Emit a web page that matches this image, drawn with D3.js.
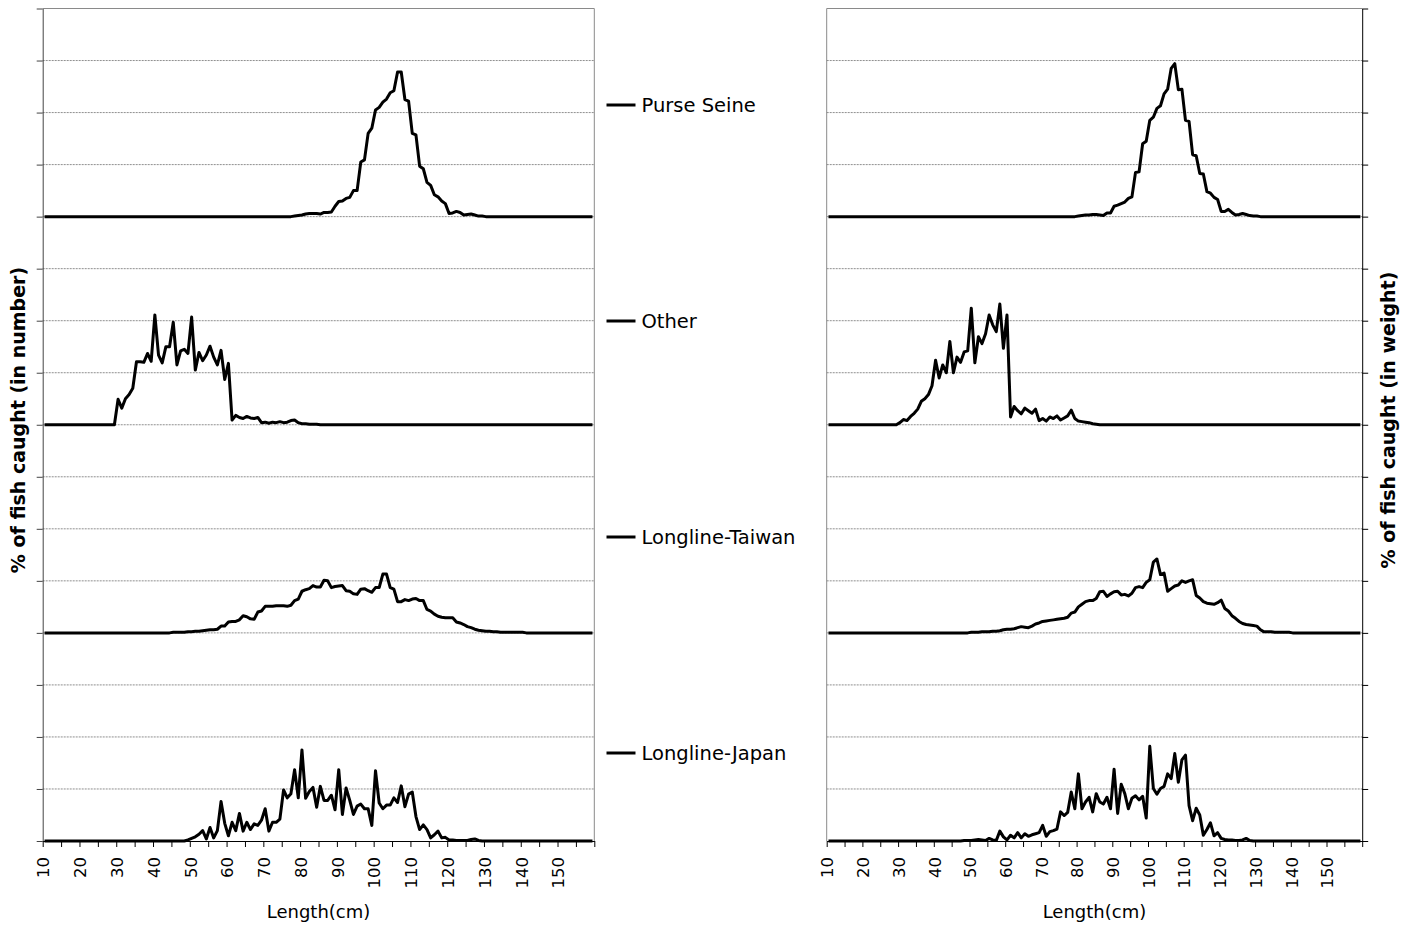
<!DOCTYPE html>
<html>
<head>
<meta charset="utf-8">
<script src="https://cdn.jsdelivr.net/npm/d3@7"></script>
<style>
body { margin: 0; background: #fff; }
text { font-family: "DejaVu Sans", Verdana, sans-serif; fill: #000; }
</style>
</head>
<body>
<script>
//length bins (cm), each bin is 1 cm wide, plotted at its midpoint
var firstBin = 10,
	lastBin = 159;

//fleets, top to bottom, and how many grid units each curve is lifted
var fleets = ["Purse Seine", "Other", "Longline-Taiwan", "Longline-Japan"];
var fleetOffsets = [12, 8, 4, 0];

//x axis tick labels
var xLabels = [10, 20, 30, 40, 50, 60, 70, 80, 90, 100, 110, 120, 130, 140, 150];

//catch in number: first bin holding data, then one value per bin (zero outside)
var psNumberStart = 78;
var psNumber = [0.01,0.02,0.03,0.05,0.06,0.06,0.06,0.05,0.08,0.08,
	0.09,0.2,0.29,0.3,0.35,0.37,0.5,0.5,1.05,1.09,
	1.6,1.7,2.05,2.1,2.2,2.26,2.38,2.42,2.78,2.78,
	2.25,2.22,1.6,1.57,0.97,0.92,0.66,0.6,0.42,0.38,
	0.3,0.25,0.06,0.07,0.1,0.08,0.03,0.04,0.05,0.03,
	0.01,0.01];

var otherNumberStart = 30;
var otherNumber = [0.49,0.32,0.5,0.58,0.7,1.21,1.21,1.2,1.37,1.22,
	2.11,1.34,1.19,1.5,1.5,1.97,1.15,1.42,1.45,1.37,
	2.07,1.05,1.39,1.23,1.34,1.51,1.3,1.15,1.43,0.87,
	1.18,0.09,0.18,0.14,0.12,0.16,0.13,0.12,0.14,0.04,
	0.05,0.03,0.05,0.04,0.06,0.04,0.05,0.08,0.09,0.04,
	0.02,0.02,0.01,0.01,0.01];

var twNumberStart = 45;
var twNumber = [0.01,0.01,0.01,0.01,0.02,
	0.02,0.03,0.03,0.04,0.05,0.06,0.06,0.07,0.13,0.13,
	0.21,0.22,0.22,0.25,0.33,0.31,0.27,0.26,0.4,0.42,
	0.51,0.51,0.51,0.52,0.52,0.52,0.51,0.53,0.62,0.65,
	0.8,0.83,0.85,0.91,0.88,0.88,1.01,1.0,0.87,0.89,
	0.9,0.91,0.81,0.8,0.75,0.74,0.84,0.85,0.81,0.78,
	0.87,0.87,1.13,1.13,0.87,0.84,0.6,0.6,0.64,0.62,
	0.65,0.66,0.62,0.62,0.45,0.42,0.36,0.32,0.3,0.29,
	0.29,0.29,0.21,0.19,0.16,0.12,0.1,0.07,0.05,0.04,
	0.03,0.03,0.02,0.02,0.01,0.01,0.01,0.01,0.01,0.01,
	0.01];

var jpNumberStart = 49;
var jpNumber = [0.02,
	0.05,0.08,0.13,0.2,0.04,0.26,0.06,0.2,0.76,0.34,
	0.1,0.36,0.2,0.53,0.19,0.36,0.22,0.33,0.3,0.4,
	0.62,0.19,0.36,0.36,0.42,0.98,0.83,0.91,1.37,0.83,
	1.75,0.82,0.95,1.03,0.65,1.05,0.78,0.78,0.88,0.6,
	1.37,0.51,1.02,0.78,0.51,0.67,0.71,0.62,0.62,0.3,
	1.35,0.73,0.62,0.69,0.69,0.83,0.74,1.06,0.66,0.9,
	0.94,0.47,0.22,0.31,0.22,0.06,0.12,0.19,0.06,0.07,
	0.02,0.02,0.01,0.01,0.01,0.01,0.03,0.04,0.01];

//catch in weight
var psWeightStart = 80;
var psWeight = [0.01,0.02,0.03,0.03,0.04,0.04,0.03,0.02,0.07,0.07,
	0.2,0.22,0.25,0.28,0.35,0.38,0.85,0.86,1.4,1.45,
	1.85,1.91,2.08,2.13,2.36,2.45,2.85,2.94,2.44,2.45,
	1.85,1.83,1.19,1.17,0.83,0.82,0.48,0.45,0.37,0.33,
	0.1,0.1,0.14,0.08,0.03,0.04,0.06,0.04,0.02,0.01,
	0.01];

var otherWeightStart = 30;
var otherWeight = [0.04,0.1,0.08,0.16,0.22,0.3,0.45,0.5,0.58,0.75,
	1.24,0.9,1.15,1.0,1.6,1.0,1.3,1.2,1.4,1.42,
	2.24,1.19,1.69,1.56,1.75,2.11,1.92,1.79,2.32,1.47,
	2.11,0.15,0.35,0.27,0.21,0.32,0.27,0.22,0.3,0.08,
	0.12,0.07,0.15,0.12,0.17,0.09,0.13,0.17,0.28,0.12,
	0.07,0.06,0.05,0.04,0.02,0.01];

var twWeightStart = 50;
var twWeight = [0.01,0.01,0.01,0.02,0.02,0.02,0.03,0.03,0.04,0.06,
	0.07,0.07,0.08,0.1,0.12,0.11,0.1,0.13,0.17,0.19,
	0.22,0.23,0.24,0.25,0.26,0.27,0.28,0.3,0.38,0.4,
	0.5,0.55,0.6,0.62,0.62,0.66,0.79,0.8,0.7,0.75,
	0.79,0.8,0.73,0.74,0.71,0.76,0.87,0.89,0.87,0.97,
	1.02,1.36,1.42,1.12,1.15,0.8,0.85,0.9,0.92,1.0,
	0.97,1.0,1.02,0.72,0.67,0.6,0.57,0.56,0.55,0.58,
	0.63,0.47,0.42,0.33,0.28,0.22,0.18,0.16,0.15,0.14,
	0.13,0.06,0.02,0.02,0.02,0.01,0.01,0.01,0.01,0.01];

var jpWeightStart = 48;
var jpWeight = [0.01,0.01,
	0.01,0.02,0.03,0.02,0.01,0.05,0.02,0.01,0.19,0.08,
	0.02,0.11,0.06,0.16,0.06,0.14,0.09,0.12,0.14,0.16,
	0.3,0.09,0.18,0.2,0.23,0.56,0.49,0.55,0.94,0.62,
	1.29,0.62,0.75,0.84,0.56,0.91,0.75,0.71,0.84,0.62,
	1.38,0.53,1.09,0.91,0.62,0.82,0.87,0.79,0.86,0.44,
	1.82,1.01,0.9,1.01,1.05,1.29,1.2,1.68,1.13,1.56,
	1.65,0.68,0.39,0.63,0.5,0.11,0.22,0.35,0.1,0.16,
	0.05,0.03,0.02,0.02,0.01,0.01,0.02,0.05,0.01];

window.onload = drawChart();

function drawChart(){

	var width = 1411,
		height = 926;

	var svg = d3.select("body")
		.append("svg")
		.attr("width", width)
		.attr("height", height);

	//shared vertical scale, 16 grid units
	var y = d3.scaleLinear()
		.domain([0, 16])
		.range([841, 8.5]);

	var panels = [
		{ left: 42.7, right: 594.3, side: "left", title: "% of fish caught (in number)", titleX: 18,
			series: [[psNumberStart, psNumber], [otherNumberStart, otherNumber], [twNumberStart, twNumber], [jpNumberStart, jpNumber]] },
		{ left: 826.7, right: 1362.2, side: "right", title: "% of fish caught (in weight)", titleX: 1388,
			series: [[psWeightStart, psWeight], [otherWeightStart, otherWeight], [twWeightStart, twWeight], [jpWeightStart, jpWeight]] }
	];

	panels.forEach(function(p){ drawPanel(svg, p, y); });

	//legend between the two panels
	var legend = svg.append("g")
		.attr("class", "legend");

	var entry = legend.selectAll(".entry")
		.data(fleets)
		.enter()
		.append("g")
		.attr("class", "entry")
		.attr("transform", function(d, i){ return "translate(606.5," + (105 + i * 216) + ")"; });

	entry.append("line")
		.attr("x1", 0)
		.attr("x2", 29)
		.attr("stroke", "#000")
		.attr("stroke-width", 3);

	entry.append("text")
		.attr("x", 35)
		.attr("dy", "0.36em")
		.style("font-size", "19.5px")
		.text(function(d){ return d; });
};

function toPoints(start, values){
	//one point per bin, zero where the fleet caught nothing
	return d3.range(firstBin, lastBin + 1).map(function(b){
		var i = b - start;
		return { len: b + 0.5, v: (i >= 0 && i < values.length) ? values[i] : 0 };
	});
};

function drawPanel(svg, p, y){

	var x = d3.scaleLinear()
		.domain([10, 160])
		.range([p.left, p.right]);

	var g = svg.append("g")
		.attr("class", "panel");

	//horizontal gridlines
	g.selectAll(".grid")
		.data(d3.range(1, 16))
		.enter()
		.append("line")
		.attr("class", "grid")
		.attr("x1", p.left)
		.attr("x2", p.right)
		.attr("y1", function(d){ return y(d); })
		.attr("y2", function(d){ return y(d); })
		.attr("stroke", "#8f8f8f")
		.attr("stroke-dasharray", "2,1");

	//plot area border on the non-axis sides
	var farX = p.side == "left" ? p.right : p.left;
	g.append("path")
		.attr("d", "M" + p.left + "," + y(16) + "H" + p.right + "M" + farX + "," + y(16) + "V" + y(0))
		.attr("fill", "none")
		.attr("stroke", "#8a8a8a");

	//value axis, ticks only
	var yAxis = (p.side == "left" ? d3.axisLeft(y) : d3.axisRight(y))
		.tickValues(d3.range(0, 17))
		.tickSize(6)
		.tickSizeOuter(0)
		.tickFormat("");

	g.append("g")
		.attr("transform", "translate(" + (p.side == "left" ? p.left : p.right) + ",0)")
		.call(yAxis)
		.call(function(a){ a.selectAll("path, line").attr("stroke", p.side == "left" ? "#444" : "#000"); });

	//length axis
	var xAxis = d3.axisBottom(x)
		.tickValues(d3.range(10, 161, 5))
		.tickSize(6)
		.tickSizeOuter(0)
		.tickFormat(function(d){ return xLabels.indexOf(d) >= 0 ? d : ""; });

	var xg = g.append("g")
		.attr("transform", "translate(0," + y(0) + ")")
		.call(xAxis);

	xg.selectAll("path, line").attr("stroke", "#000");
	xg.selectAll("text")
		.attr("transform", "rotate(-90)")
		.attr("x", -16)
		.attr("y", 0)
		.attr("dy", "0.38em")
		.style("text-anchor", "end")
		.style("font-size", "16.5px")
		.style("font-family", "DejaVu Sans, Verdana, sans-serif");

	g.append("text")
		.attr("x", (p.left + p.right) / 2)
		.attr("y", 918)
		.attr("text-anchor", "middle")
		.style("font-size", "18px")
		.text("Length(cm)");

	g.append("text")
		.attr("transform", "translate(" + p.titleX + "," + 420 + ") rotate(-90)")
		.attr("text-anchor", "middle")
		.attr("dy", "0.35em")
		.style("font-size", "19px")
		.style("font-weight", "bold")
		.text(p.title);

	//one curve per fleet, each lifted by its offset
	p.series.forEach(function(s, i){
		var pts = toPoints(s[0], s[1]);
		var line = d3.line()
			.x(function(d){ return x(d.len); })
			.y(function(d){ return y(d.v + fleetOffsets[i]); });

		g.append("path")
			.datum(pts)
			.attr("class", "fleet")
			.attr("d", line)
			.attr("fill", "none")
			.attr("stroke", "#000")
			.attr("stroke-width", 3)
			.attr("stroke-linejoin", "round");
	});
};
</script>
</body>
</html>
